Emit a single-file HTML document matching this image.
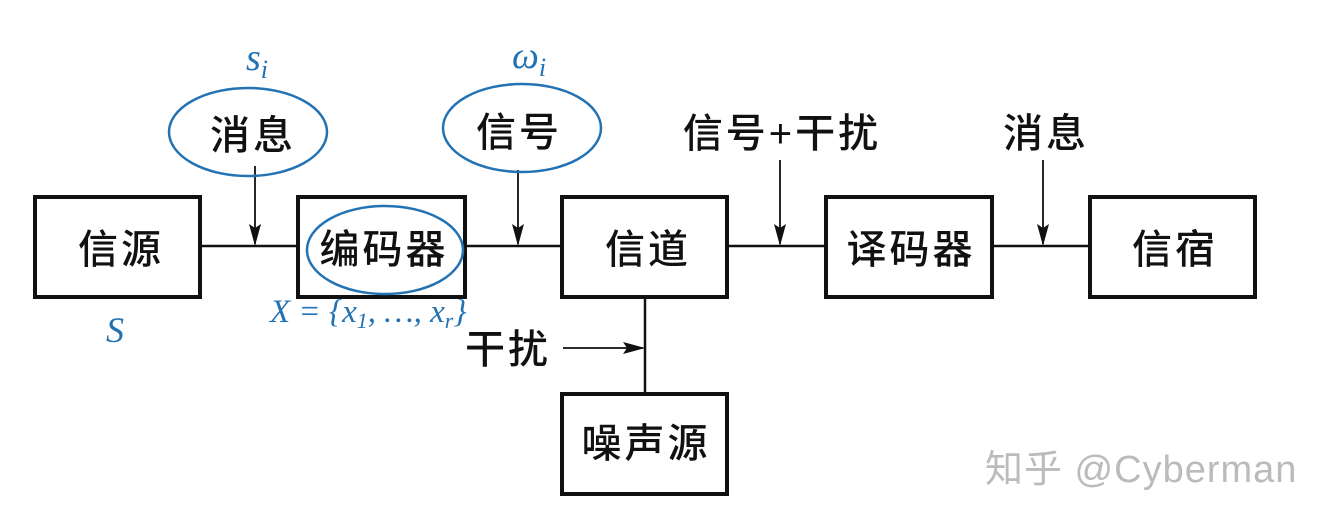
<!DOCTYPE html>
<html><head><meta charset="utf-8"><style>
body{margin:0;background:#fff;}
svg{display:block}
.t{font-family:"Liberation Sans","Noto Sans CJK SC",sans-serif;font-size:40px;fill:#111;text-anchor:middle;dominant-baseline:central;font-weight:500;letter-spacing:3px}
.m{font-family:"Liberation Serif","DejaVu Serif",serif;font-style:italic;fill:#2272b4;}
</style></head><body>
<svg width="1337" height="529" viewBox="0 0 1337 529">
<defs>
<marker id="b" markerWidth="22" markerHeight="12" refX="20" refY="6" orient="auto" markerUnits="userSpaceOnUse"><path d="M0,0 L22,6 L0,12 L4,6Z" fill="#111"/></marker></defs>
<g stroke="#111" stroke-width="2.5">
<line x1="200" y1="246" x2="297" y2="246"/>
<line x1="465" y1="246" x2="562" y2="246"/>
<line x1="727" y1="246" x2="825" y2="246"/>
<line x1="992" y1="246" x2="1090" y2="246"/>
<line x1="645" y1="297" x2="645" y2="393"/>
</g>
<g stroke="#111" stroke-width="1.8" marker-end="url(#b)">
<line x1="255" y1="166" x2="255" y2="244"/>
<line x1="518" y1="170" x2="518" y2="244"/>
<line x1="780" y1="160" x2="780" y2="244"/>
<line x1="1043" y1="160" x2="1043" y2="244"/>
<line x1="563" y1="348" x2="643" y2="348"/>
</g>
<g fill="none" stroke="#111" stroke-width="4">
<rect x="35" y="197" width="165" height="100"/>
<rect x="298" y="197" width="167" height="100"/>
<rect x="562" y="197" width="165" height="100"/>
<rect x="826" y="197" width="166" height="100"/>
<rect x="1090" y="197" width="165" height="100"/>
<rect x="562" y="394" width="165" height="100"/>
</g>
<g fill="none" stroke="#2272b4" stroke-width="2.5">
<ellipse cx="248" cy="132" rx="79" ry="44"/>
<ellipse cx="522" cy="128" rx="79" ry="44"/>
<ellipse cx="385" cy="250" rx="78" ry="44"/>
</g>
<text class="t" x="121" y="250">信源</text>
<text class="t" x="384" y="250">编码器</text>
<text class="t" x="648" y="250">信道</text>
<text class="t" x="911" y="250">译码器</text>
<text class="t" x="1175" y="250">信宿</text>
<text class="t" x="646" y="444">噪声源</text>
<text class="t" x="253" y="136">消息</text>
<text class="t" x="519" y="133">信号</text>
<text class="t" x="782" y="134">信号+干扰</text>
<text class="t" x="1046" y="134">消息</text>
<text class="t" x="508" y="350">干扰</text>
<text class="m" x="246" y="70" font-size="38">s<tspan font-size="26" dy="8">i</tspan></text>
<text class="m" x="512" y="68" font-size="38">ω<tspan font-size="26" dy="8">i</tspan></text>
<text class="m" x="106" y="342" font-size="36">S</text>
<text class="m" x="270" y="322" font-size="33">X = {x<tspan font-size="22" dy="6">1</tspan><tspan dy="-6">, …, x</tspan><tspan font-size="22" dy="6">r</tspan><tspan dy="-6">}</tspan></text>
<text x="985" y="482" font-family="Liberation Sans,'Noto Sans CJK SC',sans-serif" font-size="38" fill="#bbb" letter-spacing="1">知乎 @Cyberman</text>
</svg>
</body></html>
